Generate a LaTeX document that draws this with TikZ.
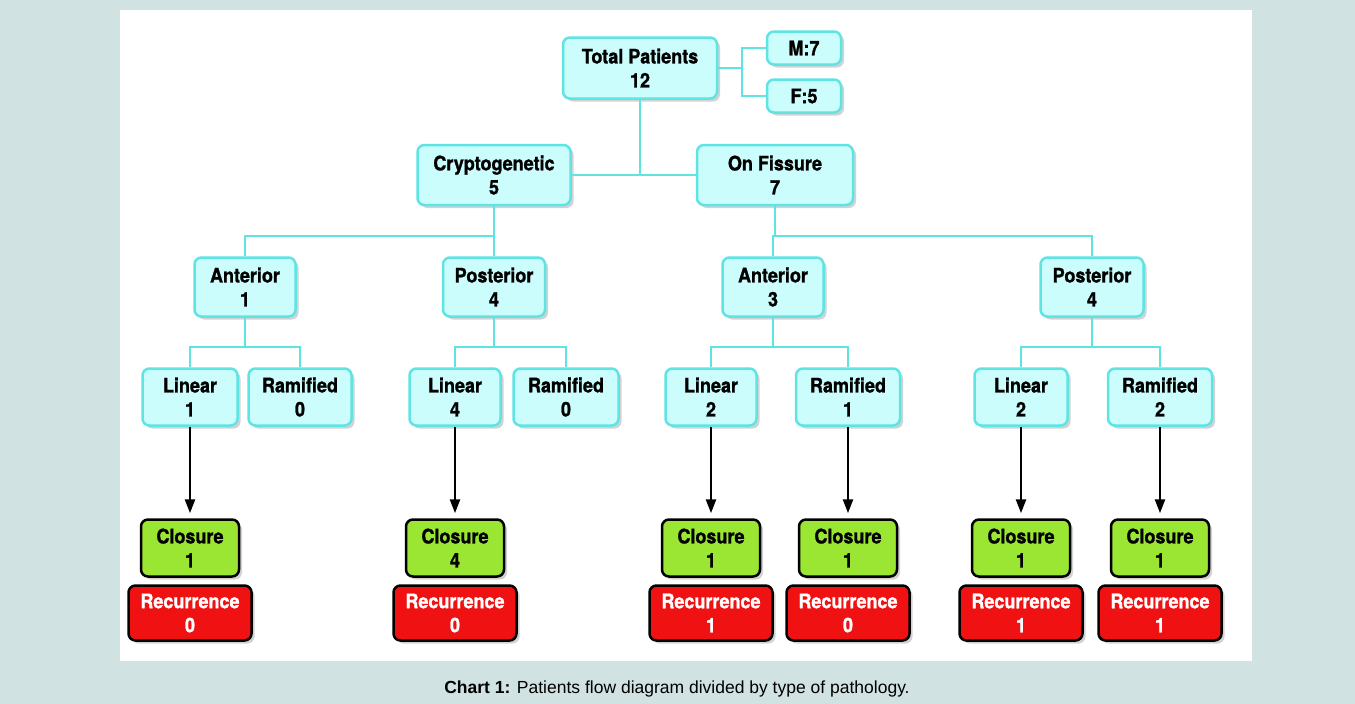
\documentclass[tikz,border=0pt]{standalone}
\usepackage{fontspec}
\setmainfont{Liberation Sans}
\newfontfamily\boxfont[FakeStretch=0.9,BoldFeatures={FakeBold=1.2}]{TeX Gyre Heros}
\usetikzlibrary{arrows.meta,shadows}
\definecolor{bgteal}{RGB}{208,226,226}
\definecolor{cyanfill}{RGB}{204,253,253}
\definecolor{cyanline}{RGB}{95,228,228}
\definecolor{closegreen}{RGB}{155,230,50}
\definecolor{recred}{RGB}{240,18,18}

\begin{document}
\begin{tikzpicture}[x=1pt,y=-1pt,
  box/.style={draw=cyanline,fill=cyanfill,line width=2.5pt,rounded corners=7pt,align=center,inner sep=0pt,
    font=\boxfont\bfseries\fontsize{20}{24}\selectfont,
    drop shadow={shadow xshift=3pt,shadow yshift=-3pt,opacity=0.35}},
  closebox/.style={box,draw=black,fill=closegreen,minimum width=98pt,minimum height=57pt},
  recbox/.style={box,draw=black,fill=recred,text=white,minimum width=123pt,minimum height=55pt},
  link/.style={cyanline,line width=2pt},
  arr/.style={line width=2.5pt,-{Triangle[length=14pt,width=10pt]},shorten >=5pt}]
  \fill[bgteal] (0,0) rectangle (1355,704);
  \fill[white] (120,10) rectangle (1252,661);

  \node[box,minimum width=154pt,minimum height=61pt] (total) at (640,68) {Total Patients\\12};
  \node[box,minimum width=74pt,minimum height=33pt] (male) at (804,48) {M:7};
  \node[box,minimum width=74pt,minimum height=33pt] (female) at (804,96) {F:5};
  \node[box,minimum width=153pt,minimum height=60pt] (crypto) at (494,175) {Cryptogenetic\\5};
  \node[box,minimum width=156pt,minimum height=60pt] (fissure) at (775,175) {On Fissure\\7};

  \node[box,minimum width=101pt,minimum height=59pt] (cantr) at (245,287) {Anterior\\1};
  \node[box,minimum width=102pt,minimum height=59pt] (cpost) at (494,287) {Posterior\\4};
  \node[box,minimum width=101pt,minimum height=59pt] (fantr) at (773,287) {Anterior\\3};
  \node[box,minimum width=103pt,minimum height=59pt] (fpost) at (1092,287) {Posterior\\4};

  \node[box,minimum width=95pt,minimum height=57pt] (calin) at (190,397) {Linear\\1};
  \node[box,minimum width=103pt,minimum height=57pt] (caram) at (300,397) {Ramified\\0};
  \node[box,minimum width=91pt,minimum height=57pt] (cplin) at (455,397) {Linear\\4};
  \node[box,minimum width=105pt,minimum height=57pt] (cpram) at (566,397) {Ramified\\0};
  \node[box,minimum width=91pt,minimum height=57pt] (falin) at (711,397) {Linear\\2};
  \node[box,minimum width=104pt,minimum height=57pt] (faram) at (848,397) {Ramified\\1};
  \node[box,minimum width=93pt,minimum height=57pt] (fplin) at (1021,397) {Linear\\2};
  \node[box,minimum width=104pt,minimum height=57pt] (fpram) at (1160,397) {Ramified\\2};

  \node[closebox] (calinclo) at (190,548) {Closure\\1};
  \node[recbox] (calinrec) at (190,613) {Recurrence\\0};
  \node[closebox] (cplinclo) at (455,548) {Closure\\4};
  \node[recbox] (cplinrec) at (455,613) {Recurrence\\0};
  \node[closebox] (falinclo) at (711,548) {Closure\\1};
  \node[recbox] (falinrec) at (711,613) {Recurrence\\1};
  \node[closebox] (faramclo) at (848,548) {Closure\\1};
  \node[recbox] (faramrec) at (848,613) {Recurrence\\0};
  \node[closebox] (fplinclo) at (1021,548) {Closure\\1};
  \node[recbox] (fplinrec) at (1021,613) {Recurrence\\1};
  \node[closebox] (fpramclo) at (1160,548) {Closure\\1};
  \node[recbox] (fpramrec) at (1160,613) {Recurrence\\1};

  \coordinate (sexjoin) at (742,68);
  \coordinate (cjoin) at (494,236);
  \coordinate (fjoin) at (775,236);
  \coordinate (cajoin) at (245,347);
  \coordinate (cpjoin) at (494,347);
  \coordinate (fajoin) at (773,347);
  \coordinate (fpjoin) at (1092,347);

  \draw[link] (total.east) -- (sexjoin);
  \draw[link] (male.west) -| (sexjoin) |- (female.west);
  \draw[link] (total.south) -- (total.south |- crypto.east);
  \draw[link] (crypto.east) -- (fissure.west);
  \draw[link] (crypto.south) -- (cjoin);
  \draw[link] (cantr.north) |- (cjoin) -- (cpost.north);
  \draw[link] (fissure.south) -- (fjoin);
  \draw[link] (fantr.north) |- (fjoin) -| (fpost.north);
  \draw[link] (cantr.south) -- (cajoin);
  \draw[link] (calin.north) |- (cajoin) -| (caram.north);
  \draw[link] (cpost.south) -- (cpjoin);
  \draw[link] (cplin.north) |- (cpjoin) -| (cpram.north);
  \draw[link] (fantr.south) -- (fajoin);
  \draw[link] (falin.north) |- (fajoin) -| (faram.north);
  \draw[link] (fpost.south) -- (fpjoin);
  \draw[link] (fplin.north) |- (fpjoin) -| (fpram.north);

  \draw[arr] (calin.south) -- (calinclo.north);
  \draw[arr] (cplin.south) -- (cplinclo.north);
  \draw[arr] (falin.south) -- (falinclo.north);
  \draw[arr] (faram.south) -- (faramclo.north);
  \draw[arr] (fplin.south) -- (fplinclo.north);
  \draw[arr] (fpram.south) -- (fpramclo.north);

  \node[font=\fontsize{17.5}{20}\selectfont] (caption) at (677,689) {\textbf{Chart 1:} Patients flow diagram divided by type of pathology.};
\end{tikzpicture}
\end{document}
